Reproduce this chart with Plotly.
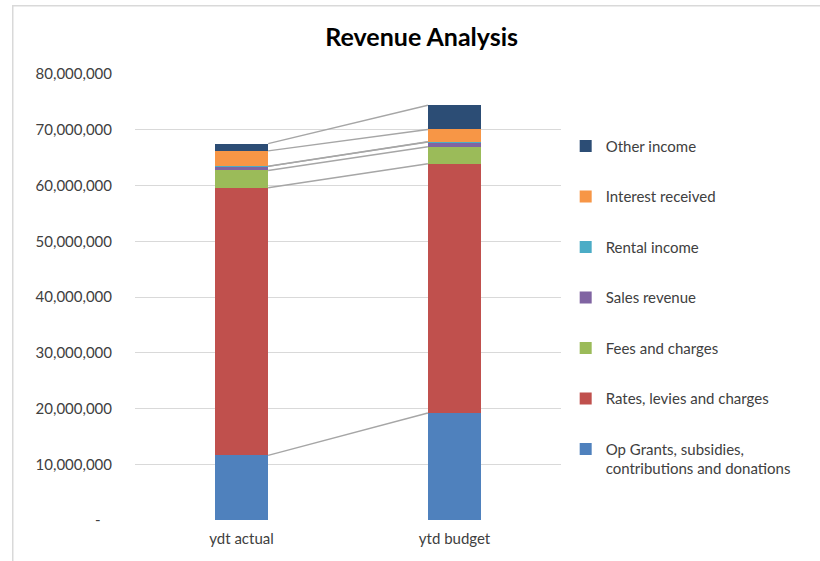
import numpy as np
import plotly.graph_objects as go

# Categories and revenue components (stacked bottom to top)
categories = ["ydt actual", "ytd budget"]
series_names = [
    "Op Grants, subsidies,<br>contributions and donations",
    "Rates, levies and charges",
    "Fees and charges",
    "Sales revenue",
    "Rental income",
    "Interest received",
    "Other income",
]
op_grants = [11_600_000, 19_200_000]
rates_levies = [48_000_000, 44_700_000]
fees_charges = [3_100_000, 3_050_000]
sales_revenue = [720_000, 850_000]
rental_income = [40_000, 50_000]
interest_received = [2_750_000, 2_200_000]
other_income = [1_300_000, 4_350_000]

series_values = [op_grants, rates_levies, fees_charges, sales_revenue,
                 rental_income, interest_received, other_income]
series_colors = ["#4F81BD", "#C0504D", "#9BBB59", "#8064A2",
                 "#4BACC6", "#F79646", "#2C4D75"]

y_ticks = [0, 10_000_000, 20_000_000, 30_000_000, 40_000_000,
           50_000_000, 60_000_000, 70_000_000, 80_000_000]
y_ticktext = ["-\u00a0\u00a0\u00a0" if v == 0 else f"{v:,}" for v in y_ticks]

FONT = "Lato, 'Open Sans', sans-serif"
BAR_W = 0.25
x_pos = np.arange(len(categories))
n_series = len(series_names)

fig = go.Figure()

# Legend lists the top segment first, so rank runs opposite to stacking order
for i, (name, vals, col) in enumerate(zip(series_names, series_values, series_colors)):
    fig.add_trace(go.Bar(
        x=x_pos, y=vals, name=name, width=BAR_W,
        marker=dict(color=col, line=dict(width=0)),
        legendgroup=f"g{i}", legendrank=n_series - i, hoverinfo="skip",
    ))

# Series lines joining the top of each segment across the two bars
tops = np.cumsum(np.array(series_values, dtype=float), axis=0)
for row in tops:
    fig.add_trace(go.Scatter(
        x=[x_pos[0] + BAR_W / 2, x_pos[1] - BAR_W / 2], y=row,
        mode="lines", line=dict(color="#A6A6A6", width=1.4),
        showlegend=False, hoverinfo="skip",
    ))

fig.update_layout(
    width=820, height=561,
    margin=dict(l=135, r=259, t=74, b=41),
    paper_bgcolor="white", plot_bgcolor="white",
    barmode="stack",
    font=dict(family=FONT, size=15, color="#404040"),
    title=dict(text="<b>Revenue Analysis</b>", x=0.673, xref="paper",
               xanchor="center", y=0.934, yanchor="middle",
               font=dict(family=FONT, size=25, color="#000000")),
    xaxis=dict(range=[-0.5, 1.5], tickvals=list(x_pos), ticktext=categories,
               showgrid=False, zeroline=False, showline=False, ticks="",
               ticklabelstandoff=8, fixedrange=True),
    yaxis=dict(range=[0, 80_000_000], tickvals=y_ticks, ticktext=y_ticktext,
               showgrid=True, gridcolor="#D9D9D9", gridwidth=1,
               zeroline=False, showline=False, ticks="",
               ticklabelstandoff=22, fixedrange=True),
    legend=dict(x=1.011, xanchor="left", y=0.875, yanchor="top",
                traceorder="grouped", tracegroupgap=28, valign="top",
                font=dict(family=FONT, size=15, color="#404040"),
                bgcolor="rgba(0,0,0,0)", itemclick=False, itemdoubleclick=False),
    shapes=[dict(type="rect", xref="paper", yref="paper",
                 x0=-0.287, x1=2.0, y0=-1.0, y1=1.153,
                 line=dict(color="#D9D9D9", width=1.5), layer="below")],
)

fig.write_html("out.html")
